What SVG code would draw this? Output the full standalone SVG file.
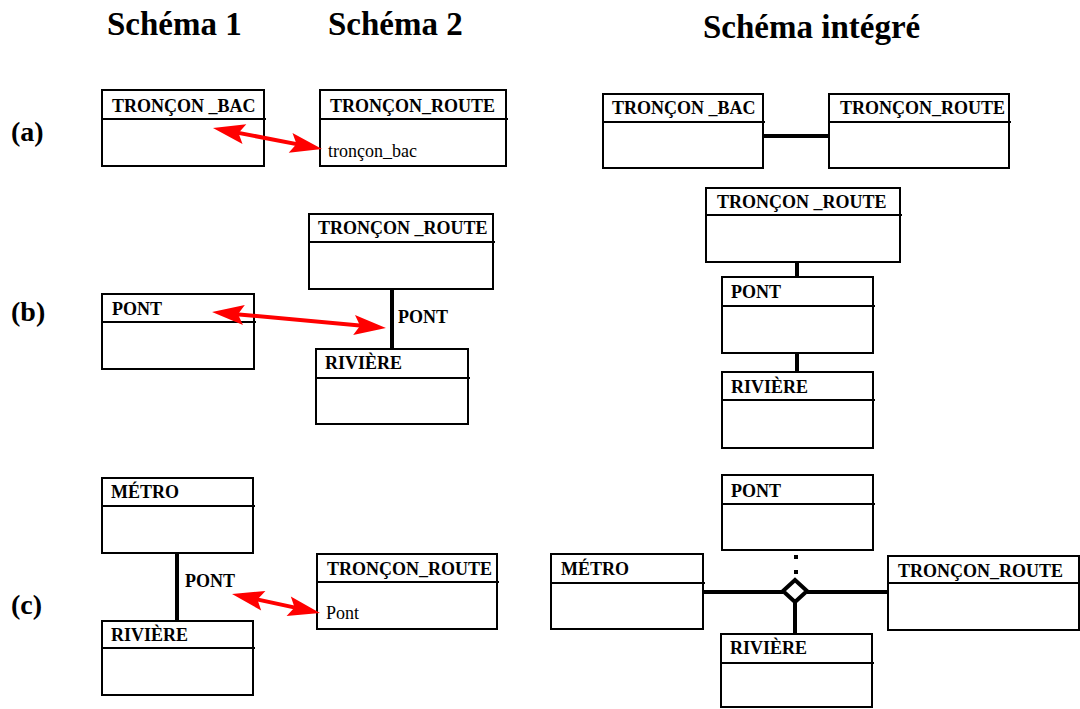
<svg xmlns="http://www.w3.org/2000/svg" width="1080" height="709" viewBox="0 0 1080 709">
<style>
.box{fill:#fff;stroke:#000;stroke-width:2}
.hl{stroke:#000;stroke-width:2}
.hd{font-family:"Liberation Serif","Times New Roman",serif;font-weight:bold;font-size:18px;fill:#000}
.at{font-family:"Liberation Serif","Times New Roman",serif;font-size:18px;fill:#000}
.ti{font-family:"Liberation Serif","Times New Roman",serif;font-weight:bold;font-size:33px;fill:#000}
.rl{font-family:"Liberation Serif","Times New Roman",serif;font-weight:bold;font-size:28px;fill:#000}
.cn{stroke:#000;stroke-width:4;fill:none}
.rd{stroke:#ff0000;stroke-width:4;fill:none;marker-start:url(#ah);marker-end:url(#ah)}
</style>
<defs>
<marker id="ah" viewBox="-24 -12 36 24" markerWidth="36" markerHeight="24" refX="0" refY="0" orient="auto-start-reverse" markerUnits="userSpaceOnUse">
<path d="M10,0 L-22,-10 L-16,0 L-22,10 Z" fill="#ff0000"/>
</marker>
</defs>
<rect width="1080" height="709" fill="#fff"/>
<g id="titles">
<text class="ti" x="107" y="35">Schéma 1</text>
<text class="ti" x="328" y="35">Schéma 2</text>
<text class="ti" x="703" y="38">Schéma intégré</text>
<text class="rl" x="11" y="141">(a)</text>
<text class="rl" x="11" y="321">(b)</text>
<text class="rl" x="11" y="614">(c)</text>
</g>
<g id="a-s1-troncon-bac">
<rect class="box" x="102" y="90" width="162" height="76"/>
<line class="hl" x1="102" y1="119" x2="266" y2="119"/>
<text class="hd" x="112" y="112">TRONÇON _BAC</text>
</g>
<g id="a-s2-troncon-route">
<rect class="box" x="320" y="90" width="186" height="76"/>
<line class="hl" x1="320" y1="119" x2="508" y2="119"/>
<text class="hd" x="330" y="112">TRONÇON_ROUTE</text>
<text class="at" x="328" y="157">tronçon_bac</text>
</g>
<g id="a-int-troncon-bac">
<rect class="box" x="603" y="94" width="160" height="74"/>
<line class="hl" x1="603" y1="122" x2="765" y2="122"/>
<text class="hd" x="612" y="114">TRONÇON _BAC</text>
</g>
<g id="a-int-troncon-route">
<rect class="box" x="829" y="94" width="180" height="74"/>
<line class="hl" x1="829" y1="122" x2="1011" y2="122"/>
<text class="hd" x="840" y="114">TRONÇON_ROUTE</text>
</g>
<g id="b-s1-pont">
<rect class="box" x="102" y="294" width="152" height="75"/>
<line class="hl" x1="102" y1="322" x2="256" y2="322"/>
<text class="hd" x="112" y="315">PONT</text>
</g>
<g id="b-s2-troncon-route">
<rect class="box" x="309" y="214" width="184" height="75"/>
<line class="hl" x1="309" y1="242" x2="495" y2="242"/>
<text class="hd" x="318" y="234">TRONÇON _ROUTE</text>
</g>
<g id="b-s2-riviere">
<rect class="box" x="316" y="349" width="152" height="75"/>
<line class="hl" x1="316" y1="378" x2="470" y2="378"/>
<text class="hd" x="325" y="369">RIVIÈRE</text>
</g>
<g id="b-int-troncon-route">
<rect class="box" x="706" y="188" width="194" height="74"/>
<line class="hl" x1="706" y1="215" x2="902" y2="215"/>
<text class="hd" x="717" y="208">TRONÇON _ROUTE</text>
</g>
<g id="b-int-pont">
<rect class="box" x="722" y="277" width="151" height="76"/>
<line class="hl" x1="722" y1="306" x2="875" y2="306"/>
<text class="hd" x="731" y="298">PONT</text>
</g>
<g id="b-int-riviere">
<rect class="box" x="722" y="372" width="151" height="76"/>
<line class="hl" x1="722" y1="400" x2="875" y2="400"/>
<text class="hd" x="731" y="393">RIVIÈRE</text>
</g>
<g id="c-s1-metro">
<rect class="box" x="102" y="478" width="151" height="75"/>
<line class="hl" x1="102" y1="506" x2="255" y2="506"/>
<text class="hd" x="111" y="498">MÉTRO</text>
</g>
<g id="c-s1-riviere">
<rect class="box" x="102" y="621" width="151" height="74"/>
<line class="hl" x1="102" y1="648" x2="255" y2="648"/>
<text class="hd" x="111" y="641">RIVIÈRE</text>
</g>
<g id="c-s2-troncon-route">
<rect class="box" x="317" y="554" width="180" height="75"/>
<line class="hl" x1="317" y1="582" x2="499" y2="582"/>
<text class="hd" x="327" y="575">TRONÇON_ROUTE</text>
<text class="at" x="326" y="619">Pont</text>
</g>
<g id="c-int-pont">
<rect class="box" x="722" y="475" width="151" height="75"/>
<line class="hl" x1="722" y1="504" x2="875" y2="504"/>
<text class="hd" x="731" y="497">PONT</text>
</g>
<g id="c-int-metro">
<rect class="box" x="551" y="554" width="152" height="75"/>
<line class="hl" x1="551" y1="583" x2="705" y2="583"/>
<text class="hd" x="561" y="575">MÉTRO</text>
</g>
<g id="c-int-troncon-route">
<rect class="box" x="888" y="556" width="191" height="74"/>
<line class="hl" x1="888" y1="583" x2="1080" y2="583"/>
<text class="hd" x="898" y="577">TRONÇON_ROUTE</text>
</g>
<g id="c-int-riviere">
<rect class="box" x="721" y="634" width="151" height="73"/>
<line class="hl" x1="721" y1="663" x2="874" y2="663"/>
<text class="hd" x="730" y="654">RIVIÈRE</text>
</g>
<g id="connectors">
<line class="cn" x1="764" y1="136" x2="829" y2="136"/>
<line class="cn" x1="392" y1="290" x2="392" y2="348"/>
<line class="cn" x1="797" y1="263" x2="797" y2="276"/>
<line class="cn" x1="797" y1="354" x2="797" y2="371"/>
<line class="cn" x1="177" y1="554" x2="177" y2="620"/>
<line class="cn" x1="704" y1="592" x2="783" y2="592"/>
<line class="cn" x1="807" y1="592" x2="887" y2="592"/>
<line class="cn" x1="795" y1="602" x2="795" y2="633"/>
<polygon class="cn" points="795,580 807,591 795,602 783,591" style="fill:#fff"/>
<rect x="794" y="555" width="4" height="4" fill="#000"/>
<rect x="794" y="570" width="4" height="4" fill="#000"/>
<text class="hd" x="398" y="323">PONT</text>
<text class="hd" x="185" y="587">PONT</text>
<line class="rd" x1="222.8" y1="129.9" x2="312.2" y2="147.1"/>
<line class="rd" x1="222" y1="312.9" x2="376" y2="327.1"/>
<line class="rd" x1="241.8" y1="596.1" x2="310.2" y2="610.9"/>
</g>
</svg>
